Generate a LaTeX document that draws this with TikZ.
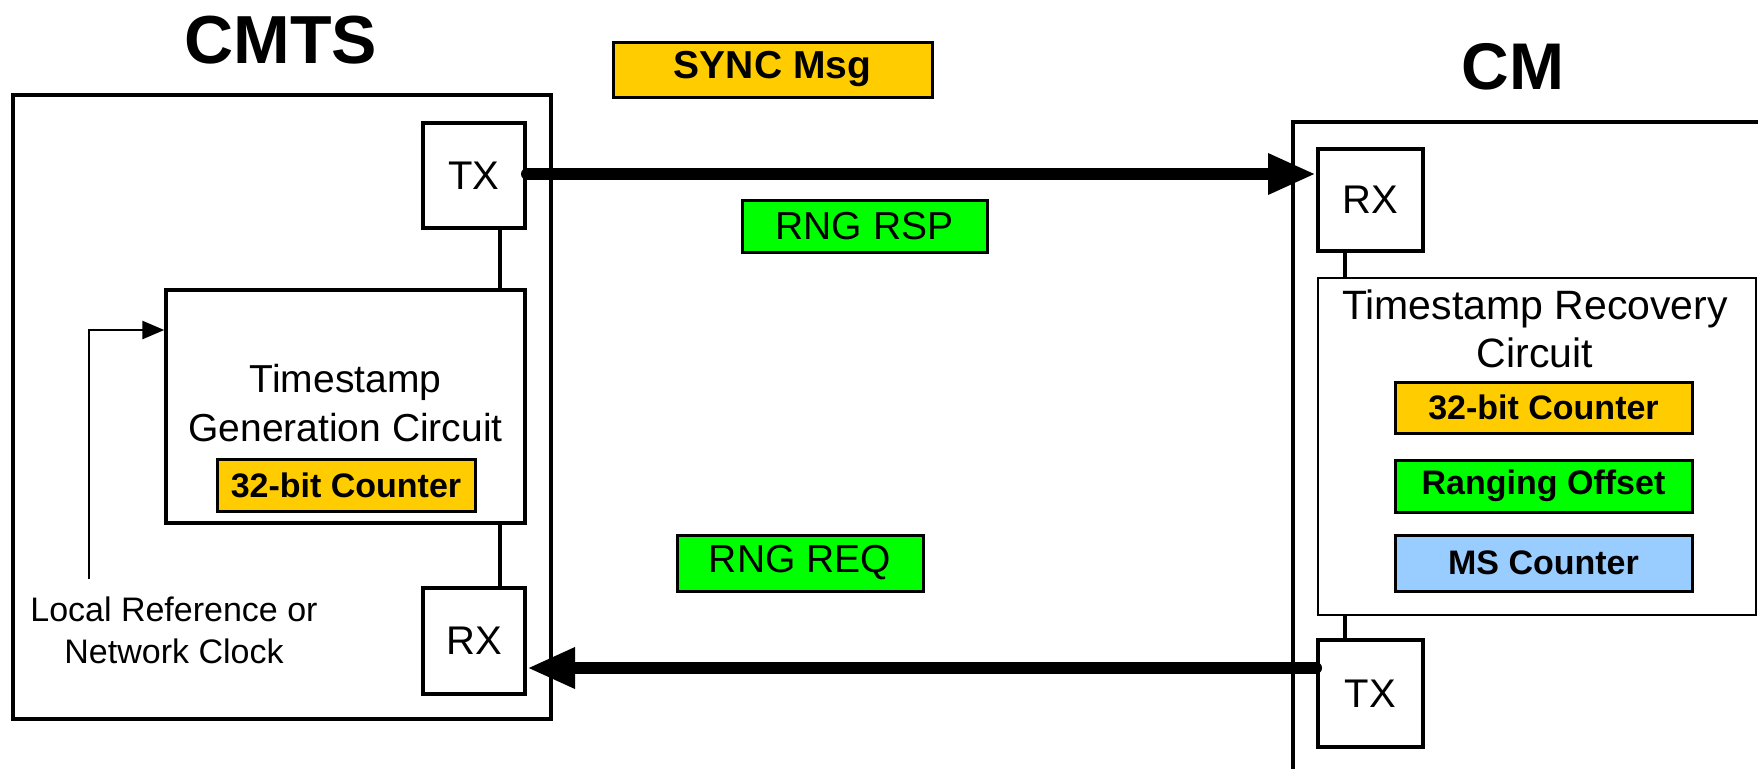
\documentclass[tikz,border=0pt]{standalone}
\usepackage{fontspec}
\setmainfont{Liberation Sans}
\usetikzlibrary{arrows.meta}
\definecolor{gold}{HTML}{FFCC00}
\definecolor{lgreen}{HTML}{00FF00}
\definecolor{lblue}{HTML}{99CCFF}
\begin{document}
\begin{tikzpicture}[x=0.5pt,y=-0.5pt,
  box/.style={draw, line width=2pt, inner sep=0pt},
  port/.style={box, font=\fontsize{20}{24}\selectfont},
  tag/.style={draw, line width=1.5pt, inner sep=0pt},
  wire/.style={line width=1.7pt},
  big/.style={line width=6pt, line cap=round, -{Triangle[length=24pt,width=19pt]}}
]
\useasboundingbox (0,0) rectangle (1758,768);
\clip (0,0) rectangle (1758,768);

% titles
\node[font=\bfseries\fontsize{34}{40}\selectfont] (cmtsT) at (281,40) {CMTS};
\node[font=\bfseries\fontsize{33}{38}\selectfont] (cmT) at (1513,67) {CM};

% CMTS side
\node[box, minimum width=269pt, minimum height=312pt] (cmts) at (282,407) {};
\node[port, minimum width=51pt, minimum height=52.5pt] (tx1) at (474,175.5) {TX};
\node[draw, line width=1.7pt, inner sep=0pt, minimum width=179.5pt, minimum height=116.5pt] (tsg) at (345.5,406.5) {};
\node[align=center, font=\fontsize{19.5}{24.5}\selectfont] (tsgT) at (345.5,403.5) {Timestamp\\Generation Circuit};
\node[tag, fill=gold, minimum width=129pt, minimum height=26pt, font=\bfseries\fontsize{17}{20}\selectfont] (cnt1) at (346,485) {32-bit Counter};
\node[port, minimum width=51pt, minimum height=53pt] (rx1) at (474,641) {RX};
\node[align=center, font=\fontsize{17}{21}\selectfont] (lref) at (174,630) {Local Reference or\\Network Clock};

\coordinate (refstart) at (89,579);
\draw[line width=1.3pt, -{Triangle[length=11pt,width=9pt]}] (refstart) |- ([yshift=38.25pt]tsg.west);
\draw[wire] ([xshift=13pt]tx1.south) -- ([xshift=13pt]tx1.south |- tsg.north);
\draw[wire] ([xshift=13pt]rx1.north) -- ([xshift=13pt]rx1.north |- tsg.south);

% CM side
\node[box, minimum width=253.5pt, minimum height=339pt] (cm) at (1546.5,461) {};
\node[port, minimum width=52.5pt, minimum height=51pt] (rx2) at (1370.5,200) {RX};
\node[draw, line width=1.3pt, inner sep=0pt, minimum width=219pt, minimum height=168.5pt] (trc) at (1537,446.5) {};
\node[align=center, font=\fontsize{20.5}{24}\selectfont] (trcT) at (1535,329) {Timestamp Recovery\\Circuit};
\node[tag, fill=gold, minimum width=148.5pt, minimum height=25.5pt, font=\bfseries\fontsize{17}{20}\selectfont] (cnt2) at (1543.5,407.5) {32-bit Counter};
\node[tag, fill=lgreen, minimum width=148.5pt, minimum height=26pt, font=\bfseries\fontsize{17}{20}\selectfont] (rng) at (1543.5,486) {Ranging Offset};
\node[tag, fill=lblue, minimum width=148.5pt, minimum height=28pt, font=\bfseries\fontsize{17}{20}\selectfont] (ms) at (1543.5,563) {MS Counter};
\node[port, minimum width=52.5pt, minimum height=53.5pt] (tx2) at (1370.5,693.5) {TX};
\draw[wire] ([xshift=-12.75pt]rx2.south) -- ([xshift=-12.75pt]rx2.south |- trc.north);
\draw[wire] ([xshift=-12.75pt]tx2.north) -- ([xshift=-12.75pt]tx2.north |- trc.south);

% messages
\node[tag, fill=gold, minimum width=159.5pt, minimum height=27.5pt, font=\bfseries\fontsize{19.5}{22}\selectfont] (sync) at (772.5,69.5) {SYNC Msg};
\node[tag, fill=lgreen, minimum width=122.5pt, minimum height=26pt, font=\fontsize{19.5}{22}\selectfont] (rsp) at (864.5,226) {RNG RSP};
\node[tag, fill=lgreen, minimum width=123pt, minimum height=28pt, font=\fontsize{19.5}{22}\selectfont] (req) at (800,563) {RNG REQ};

% main links
\draw[big] ([yshift=0.75pt]tx1.east) -- ([yshift=0.75pt]tx1.east -| rx2.west);
\draw[big] ([yshift=12.75pt]tx2.west) -- ([yshift=12.75pt]tx2.west -| rx1.east);
\end{tikzpicture}
\end{document}
